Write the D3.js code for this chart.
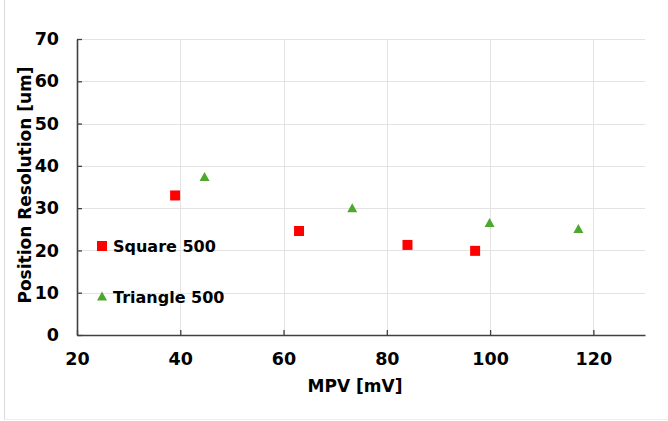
<!DOCTYPE html>
<html>
<head>
<meta charset="utf-8">
<script src="https://cdn.jsdelivr.net/npm/d3@7"></script>
<style>
  html, body { margin: 0; padding: 0; background: #fff; }
  svg { display: block; }
  text { font-family: "DejaVu Sans", sans-serif; font-weight: bold; fill: #000; }
</style>
</head>
<body>
<svg id="chart" width="668" height="421"></svg>
<script>
// Data
const squareX = [39.0, 63.0, 84.0, 97.1];
const squareY = [33.0, 24.6, 21.3, 19.9];
const triangleX = [44.7, 73.3, 99.9, 117.1];
const triangleY = [37.5, 30.1, 26.6, 25.2];
const seriesNames = ["Square 500", "Triangle 500"];
const xTicks = [20, 40, 60, 80, 100, 120];
const yTicks = [0, 10, 20, 30, 40, 50, 60, 70];
const xTitle = "MPV [mV]";
const yTitle = "Position Resolution [um]";

const svg = d3.select("#chart");
const plot = { left: 77, right: 645, top: 39, bottom: 335 };

// chart border (partial, as in reference)
svg.append("line").attr("x1", 4.5).attr("x2", 4.5).attr("y1", 0).attr("y2", 419.5)
  .attr("stroke", "#d9d9d9").attr("stroke-width", 1);
svg.append("line").attr("x1", 4.5).attr("x2", 668).attr("y1", 419.5).attr("y2", 419.5)
  .attr("stroke", "#eeeeee").attr("stroke-width", 1);

const x = d3.scaleLinear().domain([20, 130]).range([plot.left, plot.right]);
const y = d3.scaleLinear().domain([0, 70]).range([plot.bottom, plot.top]);

// gridlines
const grid = svg.append("g");
grid.selectAll("line.h").data(yTicks.filter(d => d > 0)).enter().append("line")
  .attr("x1", plot.left).attr("x2", plot.right)
  .attr("y1", d => Math.round(y(d)) + 0.5).attr("y2", d => Math.round(y(d)) + 0.5)
  .attr("stroke", "#e3e3e3").attr("stroke-width", 1);
grid.selectAll("line.v").data(xTicks.filter(d => d > 20)).enter().append("line")
  .attr("y1", plot.top).attr("y2", plot.bottom)
  .attr("x1", d => Math.round(x(d)) + 0.5).attr("x2", d => Math.round(x(d)) + 0.5)
  .attr("stroke", "#e3e3e3").attr("stroke-width", 1);

// axes
const xAxis = d3.axisBottom(x).tickValues(xTicks).tickSizeInner(-5).tickSizeOuter(0).tickPadding(18);
const yAxis = d3.axisLeft(y).tickValues(yTicks).tickSizeInner(-5).tickSizeOuter(0).tickPadding(18);

const gx = svg.append("g").attr("transform", `translate(0,${plot.bottom})`).call(xAxis);
const gy = svg.append("g").attr("transform", `translate(${plot.left},0)`).call(yAxis);
[gx, gy].forEach(g => {
  g.select(".domain").attr("stroke", "#404040").attr("stroke-width", 1.6);
  g.selectAll(".tick line").attr("stroke", "#404040").attr("stroke-width", 1.3);
  g.selectAll(".tick text").style("font-family", "DejaVu Sans, sans-serif")
    .style("font-weight", "bold").style("font-size", "17.5px").attr("fill", "#000");
});
gx.selectAll(".tick text").attr("dy", "0.71em").attr("y", 18);
gy.selectAll(".tick text").attr("x", -18);

// axis titles
svg.append("text").attr("x", 355).attr("y", 392)
  .attr("text-anchor", "middle").style("font-size", "17px").text(xTitle);
svg.append("text").attr("transform", `translate(31,${(plot.top + plot.bottom) / 2 - 2}) rotate(-90)`)
  .attr("text-anchor", "middle").style("font-size", "17px").text(yTitle);

const red = "#ff0000", green = "#4ea72e";
const sq = d3.symbol().type(d3.symbolSquare).size(100);

function triPath(cx, cy) {
  const w = 10, h = 9;
  return `M${cx},${cy - h / 2}L${cx + w / 2},${cy + h / 2}L${cx - w / 2},${cy + h / 2}Z`;
}

svg.append("g").selectAll("path").data(squareX.map((d, i) => [d, squareY[i]])).enter()
  .append("path").attr("d", sq).attr("transform", d => `translate(${x(d[0])},${y(d[1])})`)
  .attr("fill", red);
svg.append("g").selectAll("path").data(triangleX.map((d, i) => [d, triangleY[i]])).enter()
  .append("path").attr("d", d => triPath(x(d[0]), y(d[1]))).attr("fill", green);

// legend
const leg = svg.append("g");
leg.append("rect").attr("x", 97).attr("y", 241).attr("width", 10).attr("height", 10).attr("fill", red);
leg.append("text").attr("x", 113).attr("y", 252).style("font-size", "16px").text(seriesNames[0]);
leg.append("path").attr("d", triPath(102, 296)).attr("fill", green);
leg.append("text").attr("x", 113).attr("y", 303).style("font-size", "16px").text(seriesNames[1]);
</script>
</body>
</html>
